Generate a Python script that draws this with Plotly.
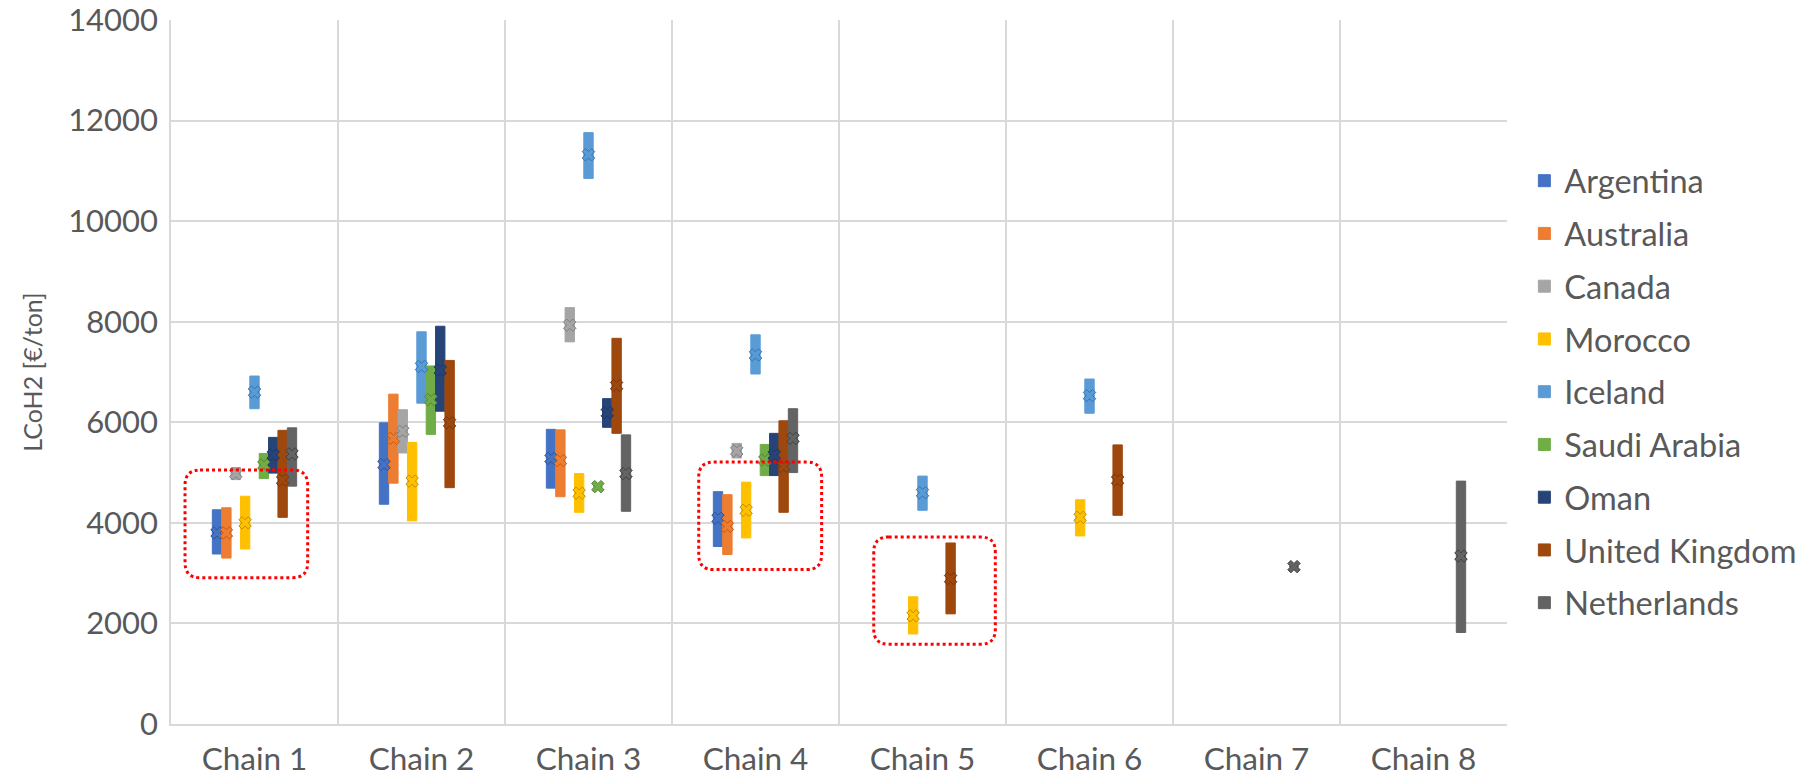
import plotly.graph_objects as go

# Supply chains on the x axis
chains = ["Chain 1", "Chain 2", "Chain 3", "Chain 4", "Chain 5", "Chain 6", "Chain 7", "Chain 8"]

# LCoH2 [€/ton] per country and chain: lower end, upper end and mean (None = no route)
argentina_low = [3380, 4370, 4690, 3530, None, None, None, None]
argentina_high = [4260, 5990, 5860, 4620, None, None, None, None]
argentina_mean = [3800, 5160, 5280, 4090, None, None, None, None]

australia_low = [3300, 4790, 4520, 3370, None, None, None, None]
australia_high = [4300, 6560, 5850, 4560, None, None, None, None]
australia_mean = [3800, 5680, 5240, 3930, None, None, None, None]

canada_low = [4860, 5390, 7600, 5290, None, None, None, None]
canada_high = [5100, 6250, 8280, 5580, None, None, None, None]
canada_mean = [4980, 5820, 7930, 5430, None, None, None, None]

morocco_low = [3480, 4040, 4210, 3700, 1790, 3740, None, None]
morocco_high = [4530, 5600, 4980, 4810, 2530, 4460, None, None]
morocco_mean = [4000, 4830, 4590, 4250, 2150, 4110, None, None]

iceland_low = [6270, 6380, 10850, 6960, 4250, 6180, None, None]
iceland_high = [6920, 7800, 11760, 7740, 4930, 6860, None, None]
iceland_mean = [6600, 7110, 11320, 7340, 4600, 6530, None, None]

saudi_low = [4880, 5760, 4720, 4940, None, None, None, None]
saudi_high = [5380, 7120, 4720, 5560, None, None, None, None]
saudi_mean = [5150, 6450, 4720, 5250, None, None, None, None]

oman_low = [4990, 6220, 5900, 4940, None, None, None, None]
oman_high = [5700, 7910, 6470, 5780, None, None, None, None]
oman_mean = [5350, 7040, 6190, 5350, None, None, None, None]

uk_low = [4110, 4700, 5780, 4210, 2190, 4150, None, None]
uk_high = [5840, 7230, 7670, 6030, 3600, 5550, None, None]
uk_mean = [4850, 5990, 6730, 5120, 2890, 4850, None, None]

netherlands_low = [4730, None, 4230, 5000, None, None, 3130, 1820]
netherlands_high = [5890, None, 5750, 6270, None, None, 3130, 4830]
netherlands_mean = [5370, None, 4980, 5680, None, None, 3130, 3340]

series = [
    ("Argentina", argentina_low, argentina_high, argentina_mean, "#4472C4", "#2F5597"),
    ("Australia", australia_low, australia_high, australia_mean, "#ED7D31", "#C55A11"),
    ("Canada", canada_low, canada_high, canada_mean, "#A5A5A5", "#7F7F7F"),
    ("Morocco", morocco_low, morocco_high, morocco_mean, "#FFC000", "#BF9000"),
    ("Iceland", iceland_low, iceland_high, iceland_mean, "#5B9BD5", "#2E75B6"),
    ("Saudi Arabia", saudi_low, saudi_high, saudi_mean, "#70AD47", "#548235"),
    ("Oman", oman_low, oman_high, oman_mean, "#264478", "#1F3864"),
    ("United Kingdom", uk_low, uk_high, uk_mean, "#9E480E", "#7A360A"),
    ("Netherlands", netherlands_low, netherlands_high, netherlands_mean, "#636363", "#404040"),
]

FONT = "Lato"
TEXT_COLOR = "#595959"
GRID = "#D9D9D9"
GAP = 0.495

fig = go.Figure()

# Range boxes (low -> high) as floating bars, one slot per country within each chain
for name, low, high, mean, color, dark in series:
    xs, bases, spans = [], [], []
    for c, lo, hi in zip(chains, low, high):
        if lo is None:
            continue
        xs.append(c)
        bases.append(lo)
        spans.append(hi - lo)
    fig.add_trace(go.Bar(
        x=xs, y=spans, base=bases, name=name,
        marker=dict(color=color, line=dict(color=color, width=1)),
        legendgroup=name,
    ))

# Mean markers, grouped the same way as the bars
for name, low, high, mean, color, dark in series:
    xs = [c for c, m in zip(chains, mean) if m is not None]
    ms = [m for m in mean if m is not None]
    fig.add_trace(go.Scatter(
        x=xs, y=ms, mode="markers", showlegend=False, legendgroup=name,
        marker=dict(symbol="x", size=11, color=color, line=dict(color=dark, width=1)),
        hoverinfo="skip",
    ))


def rounded_box(x0, x1, y0, y1, rx=0.0112, ry=300):
    """Closed rounded-rectangle path; x in plot-width fraction, y in data units."""
    return (
        f"M {x0 + rx},{y1} L {x1 - rx},{y1} Q {x1},{y1} {x1},{y1 - ry} "
        f"L {x1},{y0 + ry} Q {x1},{y0} {x1 - rx},{y0} "
        f"L {x0 + rx},{y0} Q {x0},{y0} {x0},{y0 + ry} "
        f"L {x0},{y1 - ry} Q {x0},{y1} {x0 + rx},{y1} Z"
    )


highlights = [
    (0.0105, 0.1023, 2910, 5050),
    (0.395, 0.487, 3070, 5210),
    (0.526, 0.617, 1585, 3720),
]
shapes = [
    dict(type="path", xref="paper", yref="y",
         path=rounded_box(x0, x1, y0, y1),
         line=dict(color="#FF0000", width=3, dash="dot"),
         fillcolor="rgba(0,0,0,0)", layer="above")
    for x0, x1, y0, y1 in highlights
]

fig.update_layout(
    width=1814, height=780,
    margin=dict(l=171, r=304, t=20, b=56),
    paper_bgcolor="white", plot_bgcolor="white",
    barmode="group", bargap=GAP, bargroupgap=0,
    scattermode="group", scattergap=GAP,
    font=dict(family=FONT, color=TEXT_COLOR, size=31),
    shapes=shapes,
    legend=dict(
        x=1.013, xanchor="left", y=0.811, yanchor="top",
        font=dict(family=FONT, size=32.5, color=TEXT_COLOR),
        tracegroupgap=7.5, bgcolor="rgba(0,0,0,0)",
    ),
    xaxis=dict(
        type="category", categoryorder="array", categoryarray=chains,
        tickson="boundaries", ticks="", showgrid=True, gridcolor=GRID, gridwidth=1.5,
        showline=True, linecolor=GRID, linewidth=1.5, ticklabelstandoff=6,
        automargin=False,
        tickfont=dict(family=FONT, size=31.5, color=TEXT_COLOR),
    ),
    yaxis=dict(
        range=[0, 14000], tickvals=[0, 2000, 4000, 6000, 8000, 10000, 12000, 14000],
        tickformat="d", showgrid=True, gridcolor=GRID, gridwidth=1.5,
        zeroline=False, showline=True, linecolor=GRID, linewidth=1.5, ticks="",
        ticklabelstandoff=5, ticklabeloverflow="allow", automargin=False,
        tickfont=dict(family=FONT, size=31, color=TEXT_COLOR),
        title=dict(text="LCoH2 [€/ton]",
                   font=dict(family=FONT, size=25, color=TEXT_COLOR),
                   standoff=18),
    ),
)

fig.write_html("out.html")
